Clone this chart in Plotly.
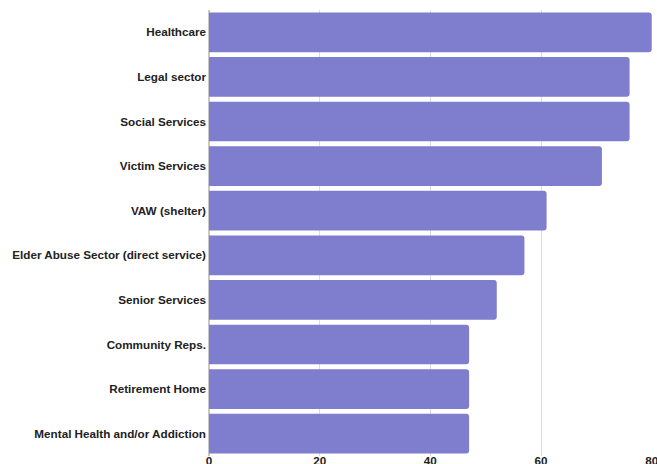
import plotly.graph_objects as go

# Sectors and their counts (top to bottom as displayed)
sectors = [
    "Healthcare",
    "Legal sector",
    "Social Services",
    "Victim Services",
    "VAW (shelter)",
    "Elder Abuse Sector (direct service)",
    "Senior Services",
    "Community Reps.",
    "Retirement Home",
    "Mental Health and/or Addiction",
]
counts = [80, 76, 76, 71, 61, 57, 52, 47, 47, 47]
x_ticks = [0, 20, 40, 60, 80]

bar_color = "#7f7dcd"
font_family = "Liberation Sans, Arial, sans-serif"

fig = go.Figure(
    go.Bar(
        x=counts,
        y=sectors,
        orientation="h",
        marker=dict(color=bar_color, line=dict(width=0)),
        hoverinfo="x+y",
    )
)

fig.update_layout(
    width=657,
    height=464,
    margin=dict(l=209, r=5, t=10, b=8),
    plot_bgcolor="white",
    paper_bgcolor="white",
    showlegend=False,
    bargap=0.11,
    barcornerradius=3,
)

fig.update_xaxes(
    range=[0, 80.05],
    tickvals=x_ticks,
    ticktext=[str(v) for v in x_ticks],
    showgrid=True,
    gridcolor="#dcdcdc",
    gridwidth=1,
    zeroline=True,
    zerolinecolor="#c8c8c8",
    showline=False,
    ticks="",
    automargin=False,
    ticklabelstandoff=-4,
    ticklabeloverflow="allow",
    tickfont=dict(family=font_family, size=11.7, color="#222222", weight="bold"),
)

fig.update_yaxes(
    categoryorder="array",
    categoryarray=sectors,
    autorange="reversed",
    showgrid=False,
    ticks="",
    automargin=False,
    ticklabelstandoff=2,
    tickfont=dict(family=font_family, size=11.7, color="#222222", weight="bold"),
)

fig.write_html("out.html")
